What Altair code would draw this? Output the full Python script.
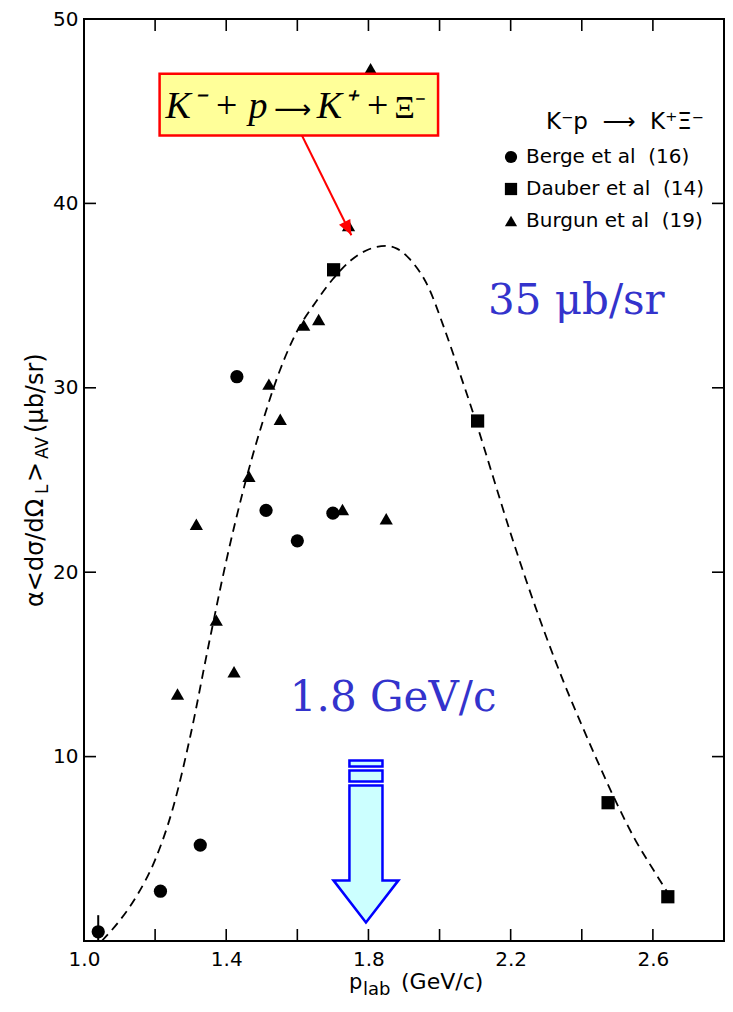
import altair as alt
import pandas as pd

# ---------------- data ----------------
berge_x = [1.04, 1.215, 1.327, 1.43, 1.512, 1.60, 1.70]
berge_y = [0.5, 2.7, 5.2, 30.6, 23.35, 21.7, 23.2]

dauber_x = [1.702, 2.107, 2.474, 2.642]
dauber_y = [36.4, 28.2, 7.5, 2.4]

burgun_x = [1.263, 1.316, 1.372, 1.422, 1.464, 1.52, 1.552, 1.618, 1.66, 1.727, 1.744, 1.806, 1.85]
burgun_y = [13.4, 22.6, 17.4, 14.6, 25.2, 30.2, 28.3, 33.4, 33.7, 23.4, 38.8, 47.3, 22.9]

curve_x = [1.05, 1.10, 1.15, 1.20, 1.25, 1.30, 1.35, 1.40, 1.45, 1.50, 1.55, 1.60, 1.65,
           1.70, 1.75, 1.80, 1.85, 1.88, 1.915, 1.97, 2.01, 2.055, 2.10, 2.15, 2.20, 2.25,
           2.30, 2.35, 2.40, 2.45, 2.50, 2.55, 2.60, 2.639]
curve_y = [0.0, 1.1, 2.5, 4.4, 7.2, 11.2, 16.0, 20.6, 24.6, 28.0, 30.9, 33.1, 34.6,
           35.9, 36.9, 37.5, 37.7, 37.55, 37.0, 35.4, 33.4, 30.9, 28.3, 25.2, 22.1, 19.2,
           16.5, 14.0, 11.7, 9.5, 7.4, 5.5, 3.9, 2.7]

errbar_x = [1.04]
errbar_lo = [0.0]
errbar_hi = [1.4]

series_names = ["Berge et al\u00a0\u00a0(16)", "Dauber et al\u00a0\u00a0(14)", "Burgun et al\u00a0\u00a0(19)"]
series_shapes = ["circle", "square", "triangle-up"]

x_tick_values = [1.0, 1.2, 1.4, 1.6, 1.8, 2.0, 2.2, 2.4, 2.6, 2.8]
x_label_values = [1.0, 1.4, 1.8, 2.2, 2.6]
y_tick_values = [0, 10, 20, 30, 40, 50]
y_label_values = [10, 20, 30, 40, 50]

legend_title = "K\u207bp\u00a0\u00a0\u27f6\u00a0\u00a0K\u207a\u039e\u207b"
formula_parts = ["K\u207b + p", "\u27f6", "K\u207a +", "\u039e\u207b"]
mass_note = "35 \u03bcb/sr"
momentum_note = "1.8 GeV/c"

# annotation anchors (data units)
box_x, box_x2, box_y, box_y2 = 1.2126, 1.9958, 47.03, 43.68
formula_xs = [1.2294, 1.5343, 1.6545, 1.8727]
formula_y = 44.65
mass_x, mass_y = 2.136, 34.0
mom_x, mom_y = 1.579, 12.49
arrow_x, arrow_y = 1.793, 5.4
red_from = (1.613, 43.68)
red_to = (1.752, 38.27)

W, H = 640, 922
FONT = "DejaVu Sans"

xs = alt.Scale(domain=[1.0, 2.8], nice=False, zero=False)
ys = alt.Scale(domain=[0, 50], nice=False, zero=False)
xaxis = alt.Axis(values=x_label_values, format=".1f", title=None, labelFlush=False,
                 labelPadding=8, labelFont=FONT, labelFontSize=20, labelColor="black")
yaxis = alt.Axis(values=y_label_values, format="d", title=None, labelFlush=False,
                 labelPadding=6, labelFont=FONT, labelFontSize=20, labelColor="black")
X = alt.X("x:Q", scale=xs, axis=xaxis)
Y = alt.Y("y:Q", scale=ys, axis=yaxis)

# ---------------- tables ----------------
pts = pd.DataFrame({
    "x": berge_x + dauber_x + burgun_x,
    "y": berge_y + dauber_y + burgun_y,
    "series": [series_names[0]] * len(berge_x) + [series_names[1]] * len(dauber_x)
              + [series_names[2]] * len(burgun_x),
})
curve = pd.DataFrame({"x": curve_x, "y": curve_y})
err = pd.DataFrame({"x": errbar_x, "y": errbar_lo, "y2": errbar_hi})
xt = pd.DataFrame({"x": x_tick_values})
yt = pd.DataFrame({"y": y_tick_values})

# ---------------- layers ----------------
tick_bottom = alt.Chart(xt).mark_rule(color="black", strokeWidth=1.6).encode(
    x=X, y=alt.value(H), y2=alt.value(H - 12))
tick_top = alt.Chart(xt).mark_rule(color="black", strokeWidth=1.6).encode(
    x=X, y=alt.value(0), y2=alt.value(12))
tick_left = alt.Chart(yt).mark_rule(color="black", strokeWidth=1.6).encode(
    y=Y, x=alt.value(0), x2=alt.value(12))
tick_right = alt.Chart(yt).mark_rule(color="black", strokeWidth=1.6).encode(
    y=Y, x=alt.value(W), x2=alt.value(W - 12))

line = alt.Chart(curve).mark_line(color="black", strokeWidth=1.8, strokeDash=[9, 6],
                                  interpolate="monotone").encode(x=X, y=Y)

errbar = alt.Chart(err).mark_rule(color="black", strokeWidth=2).encode(
    x=X, y=Y, y2=alt.Y2("y2:Q"))

points = alt.Chart(pts).mark_point(filled=True, color="black", opacity=1, size=175,
                                   strokeWidth=0).encode(
    x=X, y=Y,
    shape=alt.Shape("series:N",
                    scale=alt.Scale(domain=series_names, range=series_shapes),
                    legend=alt.Legend(
                        orient="none", legendX=417, legendY=92, title=legend_title,
                        titleAnchor="end", titleFont=FONT, titleFontSize=23,
                        titleFontWeight="normal", titleColor="black", titlePadding=13,
                        labelFont=FONT, labelFontSize=20, labelColor="black",
                        labelLimit=400, labelOffset=5, symbolSize=150,
                        symbolFillColor="black", symbolStrokeColor="black",
                        symbolStrokeWidth=0, rowPadding=12, padding=0, symbolOpacity=1)),
)

box = alt.Chart(pd.DataFrame({"x": [box_x], "x2": [box_x2], "y": [box_y], "y2": [box_y2]})
                ).mark_rect(fill="#FFFF99", stroke="#FF0000", strokeWidth=2.5).encode(
    x=X, x2=alt.X2("x2:Q"), y=Y, y2=alt.Y2("y2:Q"))


def formula_piece(i, font, size, style):
    df = pd.DataFrame({"x": [formula_xs[i]], "y": [formula_y], "t": [formula_parts[i]]})
    return alt.Chart(df).mark_text(font=font, fontStyle=style, fontSize=size, color="black",
                                   align="left", baseline="alphabetic").encode(
        x=X, y=Y, text="t:N")


f1 = formula_piece(0, "Liberation Serif", 38, "italic")
f2 = formula_piece(1, "DejaVu Sans", 26, "normal")
f3 = formula_piece(2, "Liberation Serif", 38, "italic")
f4 = formula_piece(3, "Liberation Serif", 32, "normal")

red_line = alt.Chart(pd.DataFrame({"x": [red_from[0]], "y": [red_from[1]],
                                   "x2": [red_to[0]], "y2": [red_to[1]]})
                     ).mark_rule(color="#FF0000", strokeWidth=2).encode(
    x=X, y=Y, x2=alt.X2("x2:Q"), y2=alt.Y2("y2:Q"))

red_head = alt.Chart(pd.DataFrame({"x": [red_to[0]], "y": [red_to[1]]})).mark_point(
    shape="M0,0L-0.42,-1L0.42,-1Z", size=900, angle=333.4, filled=True,
    fill="#FF0000", stroke="#FF0000", strokeWidth=0, opacity=1).encode(x=X, y=Y)

mass = alt.Chart(pd.DataFrame({"x": [mass_x], "y": [mass_y], "t": [mass_note]})).mark_text(
    font="DejaVu Serif", fontSize=42, color="#3333CC", align="left",
    baseline="alphabetic").encode(x=X, y=Y, text="t:N")

mom = alt.Chart(pd.DataFrame({"x": [mom_x], "y": [mom_y], "t": [momentum_note]})).mark_text(
    font="DejaVu Serif", fontSize=42, color="#3333CC", align="left",
    baseline="alphabetic").encode(x=X, y=Y, text="t:N")

arrow_path = ("M-0.204,-1L0.204,-1L0.204,-0.926L-0.204,-0.926Z"
              "M-0.204,-0.877L0.204,-0.877L0.204,-0.741L-0.204,-0.741Z"
              "M-0.204,-0.691L0.204,-0.691L0.204,0.481L0.401,0.481L0,1L-0.401,0.481"
              "L-0.204,0.481Z")
blue_arrow = alt.Chart(pd.DataFrame({"x": [arrow_x], "y": [arrow_y]})).mark_point(
    shape=arrow_path, size=26244, filled=True, fill="#CCFFFF", stroke="#0000FF",
    strokeWidth=2.5, opacity=1).encode(x=X, y=Y)


def piece(text, x, y, size, dx=0, dy=0, angle=0):
    return alt.Chart(pd.DataFrame({"t": [text]})).mark_text(
        font=FONT, fontSize=size, color="black", align="left", baseline="alphabetic",
        angle=angle, dx=dx, dy=dy).encode(x=alt.value(x), y=alt.value(y), text="t:N")


# x-axis title: p_lab(GeV/c)
xt1 = piece("p", 265, 970, 21)
xt2 = piece("lab", 279, 976, 18)
xt3 = piece("(GeV/c)", 317, 970, 22)

# y-axis title: α<dσ/dΩ_L>_AV (μb/sr), rotated
YX, YY = -41, 588
yt1 = piece("\u03b1<d\u03c3/d\u03a9", YX, YY, 24, dx=0, angle=270)
yt2 = piece("L", YX, YY, 17, dx=113, dy=5, angle=270)
yt3 = piece(">", YX, YY, 24, dx=125, angle=270)
yt4 = piece("AV", YX, YY, 17, dx=148, dy=5, angle=270)
yt5 = piece(" (\u03bcb/sr)", YX, YY, 24, dx=174, angle=270)

chart = alt.layer(
    tick_bottom, tick_top, tick_left, tick_right,
    line, errbar, points, box, f1, f2, f3, f4, red_line, red_head, mass, mom, blue_arrow,
    xt1, xt2, xt3, yt1, yt2, yt3, yt4, yt5,
).properties(
    width=W, height=H,
    autosize=alt.AutoSizeParams(type="none"),
    padding={"left": 76, "top": 11, "right": 1, "bottom": 57},
    background="white",
).configure_view(
    stroke="black", strokeWidth=2
).configure_axis(
    grid=False, domain=False, ticks=False
)

chart.save("out.html", embed_options={"renderer": "svg", "actions": False})
